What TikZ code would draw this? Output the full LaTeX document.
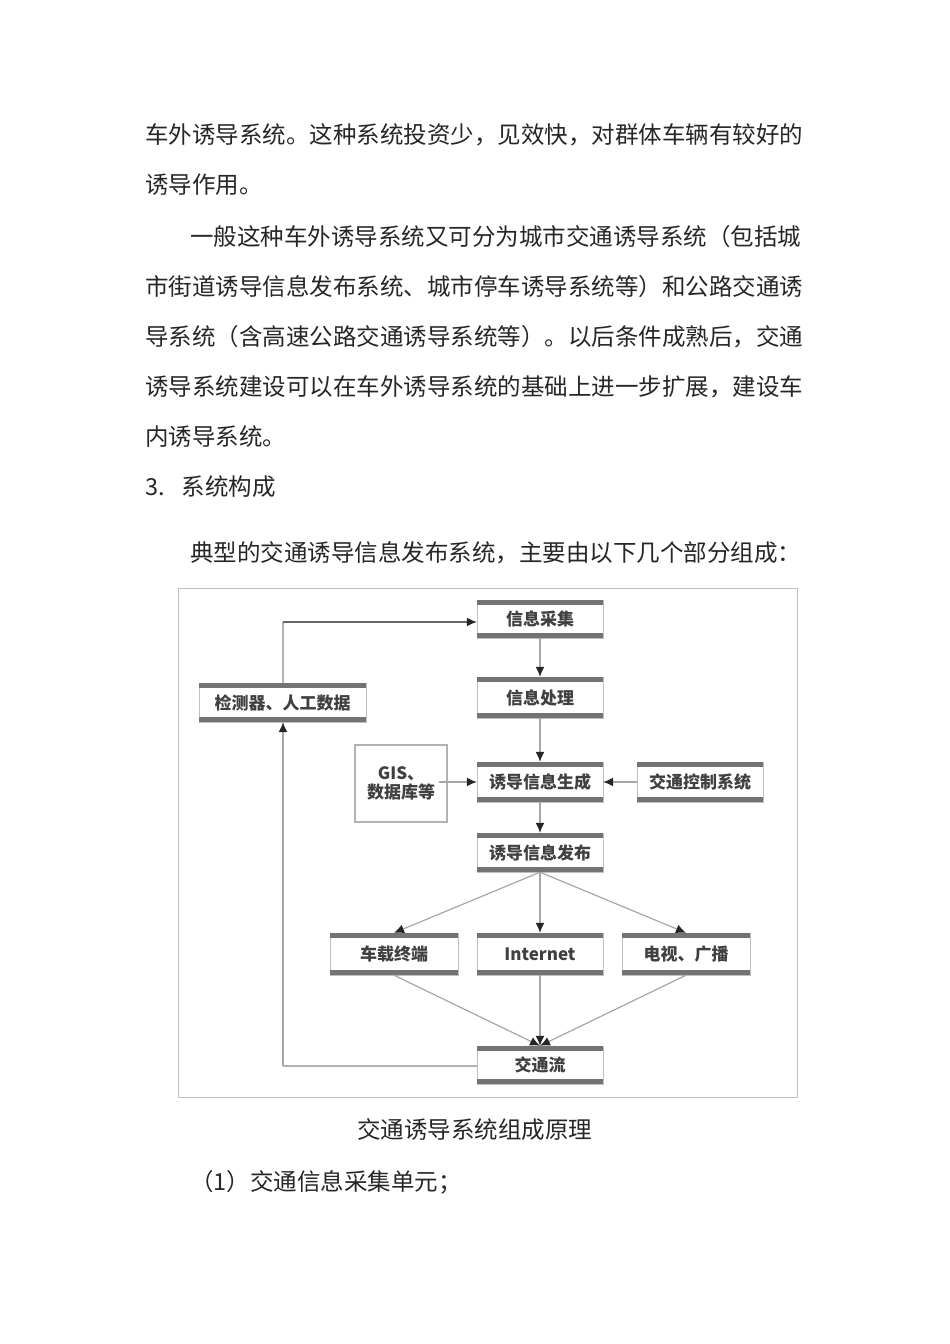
\documentclass[tikz,border=0pt]{standalone}
\usepackage{fontspec}
\newfontfamily\cjk{Noto Sans CJK SC}
\usetikzlibrary{arrows.meta}
\begin{document}
\begin{tikzpicture}[x=1pt,y=-1pt,
  body/.style={anchor=west,inner sep=0pt,font=\cjk\fontsize{23.5}{24}\selectfont,text=black!85},
  lbl/.style={font=\cjk\bfseries\fontsize{17}{19}\selectfont,text=black!75,align=center},
  arr/.style={draw=black!35,line width=1.2pt,-{Latex[length=10pt,width=9pt,color=black!85]}},
  ln/.style={draw=black!30,line width=1.2pt}]
\useasboundingbox (0,0) rectangle (950,1344);
% body text
\node[body] (t1) at (145,135) {车外诱导系统。这种系统投资少，见效快，对群体车辆有较好的};
\node[body] (t2) at (145,185) {诱导作用。};
\node[body] (t3) at (190,237) {一般这种车外诱导系统又可分为城市交通诱导系统（包括城};
\node[body] (t4) at (145,287) {市街道诱导信息发布系统、城市停车诱导系统等）和公路交通诱};
\node[body] (t5) at (145,337) {导系统（含高速公路交通诱导系统等）。以后条件成熟后，交通};
\node[body] (t6) at (145,387) {诱导系统建设可以在车外诱导系统的基础上进一步扩展，建设车};
\node[body] (t7) at (145,437) {内诱导系统。};
\node[body] (t8) at (145,487) {3.\hspace{17pt}系统构成};
\node[body] (t9) at (190,553) {典型的交通诱导信息发布系统，主要由以下几个部分组成：};
\node[body] (cap) at (357,1130) {交通诱导系统组成原理};
\node[body] (t10) at (190,1182) {（1）交通信息采集单元；};
% frame
\draw[black!25,line width=0.8pt] (178,588) rectangle (797,1097);
% boxes
\newcommand{\bx}[6]{%
  \fill[white] (#2,#3) rectangle (#4,#5);
  \draw[black!25,line width=1pt] (#2,#3) rectangle (#4,#5);
  \fill[black!55] (#2,#3) rectangle (#4,#3+5);
  \fill[black!55] (#2,#5-5) rectangle (#4,#5);
  \node[lbl,minimum width=#4-#2,minimum height=#5-#3] (#1) at ({(#2+#4)/2},{(#3+#5)/2}) {#6};}
\bx{cj}{477}{600}{603}{638}{信息采集}
\bx{cl}{477}{677}{603}{718}{信息处理}
\bx{det}{199}{683}{366}{722}{检测器、人工数据}
\bx{sc}{477}{762}{603}{802}{诱导信息生成}
\bx{kz}{637}{762}{763}{802}{交通控制系统}
\bx{fb}{477}{833}{603}{872}{诱导信息发布}
\bx{cz}{330}{933}{458}{975}{车载终端}
\bx{net}{477}{933}{603}{975}{Internet}
\bx{tv}{622}{933}{750}{975}{电视、广播}
\bx{jt}{477}{1046}{603}{1084}{交通流}
\fill[white] (355,745) rectangle (447,822);
\draw[black!30,line width=2pt] (355,745) rectangle (447,822);
\node[lbl] (gis) at (401,783) {GIS、\\数据库等};
% connectors
\coordinate (c1) at (283,622);
\coordinate (c2) at (283,1066);
\draw[ln] (det.north -| c1) -- (c1);
\draw[arr,draw=black!60] (c1) -- (cj.west |- c1);
\draw[ln] (jt.west |- c2) -- (c2);
\draw[arr] (c2) -- (det.south -| c2);
\draw[arr] (cj) -- (cl);
\draw[arr] (cl) -- (sc);
\draw[arr] (gis.east |- sc) -- (sc);
\draw[arr] (kz) -- (sc);
\draw[arr] (sc) -- (fb);
\draw[arr] (fb.south) -- (cz.north);
\draw[arr] (fb.south) -- (net.north);
\draw[arr] (fb.south) -- (tv.north);
\draw[arr] (cz.south) -- (jt.north);
\draw[arr] (net.south) -- (jt.north);
\draw[arr] (tv.south) -- (jt.north);
\end{tikzpicture}
\end{document}
